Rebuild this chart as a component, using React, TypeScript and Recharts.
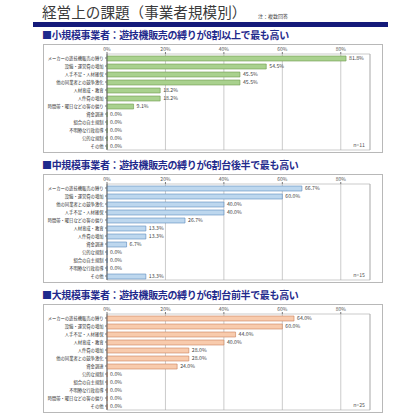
import { BarChart, Bar, XAxis, YAxis, CartesianGrid, ReferenceArea, LabelList } from 'recharts';

const smallCategories = [
  'メーカーの遊技機販売の縛り',
  '設備・運営費の増加',
  '人手不足・人材確保',
  '他の同業者との競争激化',
  '人材育成・教育',
  '人件費の増加',
  '時間帯・曜日などの客の偏り',
  '資金調達',
  '組合の自主規制',
  '不明瞭な行政指導',
  '公的な規制',
  'その他',
];
const smallValues = [81.8, 54.5, 45.5, 45.5, 18.2, 18.2, 9.1, 0, 0, 0, 0, 0];

const midCategories = [
  'メーカーの遊技機販売の縛り',
  '設備・運営費の増加',
  '他の同業者との競争激化',
  '人手不足・人材確保',
  '時間帯・曜日などの客の偏り',
  '人材育成・教育',
  '人件費の増加',
  '資金調達',
  '公的な規制',
  '組合の自主規制',
  '不明瞭な行政指導',
  'その他',
];
const midValues = [66.7, 60.0, 40.0, 40.0, 26.7, 13.3, 13.3, 6.7, 0, 0, 0, 13.3];

const largeCategories = [
  'メーカーの遊技機販売の縛り',
  '設備・運営費の増加',
  '人手不足・人材確保',
  '人材育成・教育',
  '人件費の増加',
  '他の同業者との競争激化',
  '資金調達',
  '公的な規制',
  '組合の自主規制',
  '不明瞭な行政指導',
  '時間帯・曜日などの客の偏り',
  'その他',
];
const largeValues = [64.0, 60.0, 44.0, 40.0, 28.0, 28.0, 24.0, 0, 0, 0, 0, 0];

const xTicks = [0, 20, 40, 60, 80];

const font = '"Noto Sans CJK JP", "Noto Sans", sans-serif';

type PanelProps = {
  top: number;
  heading: string;
  categories: string[];
  values: number[];
  fill: string;
  stroke: string;
  n: number;
};

const Panel = ({ top, heading, categories, values, fill, stroke, n }: PanelProps) => {
  const data = categories.map((name, i) => ({ name, value: values[i] }));
  return (
    <>
      <div
        style={{
          position: 'absolute',
          left: 42,
          top: top - 15,
          fontSize: 10,
          fontWeight: 700,
          color: '#1f2a8c',
          whiteSpace: 'nowrap',
          lineHeight: '12px',
          letterSpacing: -0.35,
        }}
      >
        {heading}
      </div>
      <div
        style={{
          position: 'absolute',
          left: 43,
          top,
          width: 338,
          height: 107,
          border: '1px solid #b8b8b8',
          background: '#fff',
        }}
      >
        <BarChart
          width={338}
          height={107}
          data={data}
          layout="vertical"
          margin={{ top: 0, right: 12, bottom: 2, left: 0 }}
          barSize={5}
        >
          <CartesianGrid horizontal={false} stroke="#a8a8a8" strokeWidth={0.6} />
          <ReferenceArea x1={0} x2={90} fill="none" stroke="#a8a8a8" strokeWidth={0.6} ifOverflow="visible" />
          <XAxis
            type="number"
            orientation="top"
            domain={[0, 90]}
            ticks={xTicks}
            tickFormatter={(v) => `${v}%`}
            height={9}
            axisLine={false}
            tickLine={{ stroke: '#777' }}
            tickSize={2}
            tickMargin={1}
            tick={{ fontSize: 5, fill: '#555' }}
          />
          <YAxis
            type="category"
            dataKey="name"
            width={63}
            interval={0}
            axisLine={{ stroke: '#555', strokeWidth: 0.8 }}
            tickLine={{ stroke: '#777' }}
            tickSize={2}
            tickMargin={1.5}
            tick={{ fontSize: 4.3, fill: '#333' }}
          />
          <Bar
            dataKey="value"
            fill={fill}
            stroke={stroke}
            strokeWidth={0.6}
            minPointSize={0.1}
            isAnimationActive={false}
          >
            <LabelList
              dataKey="value"
              position="right"
              offset={3}
              formatter={(v: any) => `${Number(v).toFixed(1)}%`}
              style={{ fontSize: 5.2, fill: '#444' }}
            />
          </Bar>
        </BarChart>
        <div style={{ position: 'absolute', right: 17, bottom: 4, fontSize: 5.2, color: '#555' }}>
          n={n}
        </div>
      </div>
    </>
  );
};

export default function App() {
  return (
    <div
      style={{
        position: 'absolute',
        left: 0,
        top: 0,
        width: 420,
        height: 420,
        background: '#fff',
        fontFamily: font,
        overflow: 'hidden',
      }}
    >
      <div
        style={{
          position: 'absolute',
          left: 42,
          top: 2,
          fontSize: 14.6,
          color: '#3a3a3a',
          whiteSpace: 'nowrap',
          lineHeight: '20px',
        }}
      >
        経営上の課題（事業者規模別）
      </div>
      <div style={{ position: 'absolute', left: 258, top: 12, fontSize: 5, color: '#444' }}>注：複数回答</div>
      <div style={{ position: 'absolute', left: 33, top: 22, width: 355, height: 5, background: '#141a7a' }} />
      <Panel
        top={44}
        heading="■小規模事業者：遊技機販売の縛りが8割以上で最も高い"
        categories={smallCategories}
        values={smallValues}
        fill="#a9d18e"
        stroke="#6f9a4f"
        n={11}
      />
      <Panel
        top={174}
        heading="■中規模事業者：遊技機販売の縛りが6割台後半で最も高い"
        categories={midCategories}
        values={midValues}
        fill="#bdd7ee"
        stroke="#5b89bd"
        n={15}
      />
      <Panel
        top={304}
        heading="■大規模事業者：遊技機販売の縛りが6割台前半で最も高い"
        categories={largeCategories}
        values={largeValues}
        fill="#f8cbad"
        stroke="#c9825a"
        n={25}
      />
    </div>
  );
}
